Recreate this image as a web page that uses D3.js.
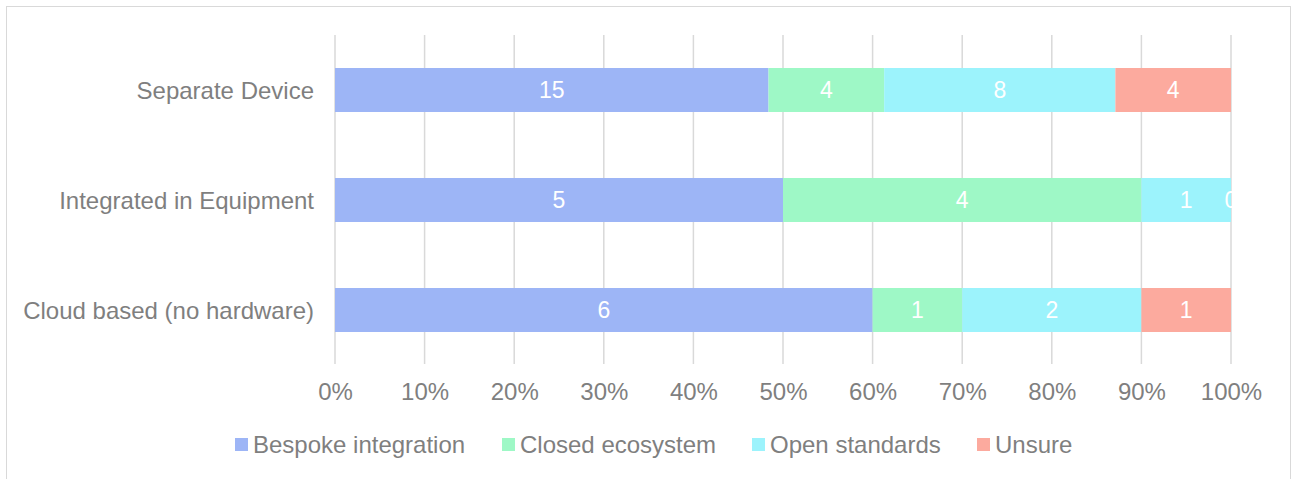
<!DOCTYPE html>
<html>
<head>
<meta charset="utf-8">
<script src="https://cdn.jsdelivr.net/npm/d3@7/dist/d3.min.js"></script>
<style>
  html, body { margin: 0; padding: 0; background: #fff; }
  svg { display: block; font-family: "Liberation Sans", Arial, sans-serif; }
</style>
</head>
<body>
<svg id="chart" width="1292" height="479"></svg>
<script>
// Deployment type per response, split by integration approach
const categories = ["Separate Device", "Integrated in Equipment", "Cloud based (no hardware)"];
const seriesNames = ["Bespoke integration", "Closed ecosystem", "Open standards", "Unsure"];
const bespoke = [15, 5, 6];
const closed = [4, 4, 1];
const openStd = [8, 1, 2];
const unsure = [4, 0, 1];
const tickValues = [0, 0.1, 0.2, 0.3, 0.4, 0.5, 0.6, 0.7, 0.8, 0.9, 1.0];
const colors = ["#9db5f6", "#9ef8c6", "#9cf3fc", "#fcaa9e"];

const seriesValues = [bespoke, closed, openStd, unsure];

const svg = d3.select("#chart");
const textColor = "#7f7f7f";
const fontSize = 24;

// outer frame
svg.append("rect")
  .attr("x", 6.5).attr("y", 6.5)
  .attr("width", 1284).attr("height", 490)
  .attr("fill", "#fff").attr("stroke", "#d9d9d9").attr("stroke-width", 1);

const plot = { left: 335, right: 1231, top: 35, bottom: 365 };

const x = d3.scaleLinear().domain([0, 1]).range([plot.left, plot.right]);
const y = d3.scaleBand().domain(categories).range([plot.top, plot.bottom]).paddingInner(0.6).paddingOuter(0.3);

// rows -> normalised stack
const rows = categories.map((c, i) => {
  const r = { category: c };
  seriesNames.forEach((s, j) => r[s] = seriesValues[j][i]);
  return r;
});
const stack = d3.stack().keys(seriesNames).offset(d3.stackOffsetExpand);
const layers = stack(rows);

// gridlines
svg.append("g").selectAll("line")
  .data(tickValues)
  .join("line")
  .attr("x1", d => x(d)).attr("x2", d => x(d))
  .attr("y1", plot.top).attr("y2", plot.bottom - 1)
  .attr("stroke", "#d9d9d9").attr("stroke-width", 1.5);

// bars
const barG = svg.append("g");
layers.forEach((layer, li) => {
  barG.append("g").attr("fill", colors[li])
    .selectAll("rect")
    .data(layer)
    .join("rect")
    .attr("x", d => x(d[0]))
    .attr("y", d => y(d.data.category))
    .attr("width", d => x(d[1]) - x(d[0]))
    .attr("height", y.bandwidth());
});

// value labels, clipped to the plot area
svg.append("clipPath").attr("id", "plotClip")
  .append("rect")
  .attr("x", plot.left).attr("y", plot.top)
  .attr("width", plot.right - plot.left + 1).attr("height", plot.bottom - plot.top);

const labelG = svg.append("g").attr("clip-path", "url(#plotClip)");
layers.forEach((layer, li) => {
  labelG.append("g")
    .selectAll("text")
    .data(layer)
    .join("text")
    .attr("x", d => x((d[0] + d[1]) / 2))
    .attr("y", d => y(d.data.category) + y.bandwidth() / 2)
    .attr("dy", "0.36em")
    .attr("text-anchor", "middle")
    .attr("fill", "#ffffff")
    .attr("font-size", 23)
    .text(d => d.data[seriesNames[li]]);
});

// category axis
const yAxis = svg.append("g")
  .attr("transform", `translate(${plot.left},0)`)
  .call(d3.axisLeft(y).tickSize(0).tickPadding(21));
yAxis.select(".domain").remove();
yAxis.selectAll("text")
  .attr("fill", textColor).attr("font-size", fontSize)
  .attr("font-family", "Liberation Sans, Arial, sans-serif")
  .attr("dy", "0.36em");

// percentage axis
const xAxis = svg.append("g")
  .attr("transform", `translate(0,${plot.bottom})`)
  .call(d3.axisBottom(x).tickValues(tickValues).tickFormat(d3.format(".0%")).tickSize(0).tickPadding(18));
xAxis.select(".domain").remove();
xAxis.selectAll("text")
  .attr("fill", textColor).attr("font-size", fontSize)
  .attr("font-family", "Liberation Sans, Arial, sans-serif")
  .attr("dy", "0.71em");

// legend
const legendX = [235, 502, 752, 977];
const legend = svg.append("g");
seriesNames.forEach((s, i) => {
  const g = legend.append("g").attr("transform", `translate(${legendX[i]},438)`);
  g.append("rect").attr("width", 13).attr("height", 13).attr("fill", colors[i]);
  g.append("text")
    .attr("x", 18).attr("y", 6.5).attr("dy", "0.36em")
    .attr("fill", textColor).attr("font-size", fontSize)
    .text(s);
});
</script>
</body>
</html>
